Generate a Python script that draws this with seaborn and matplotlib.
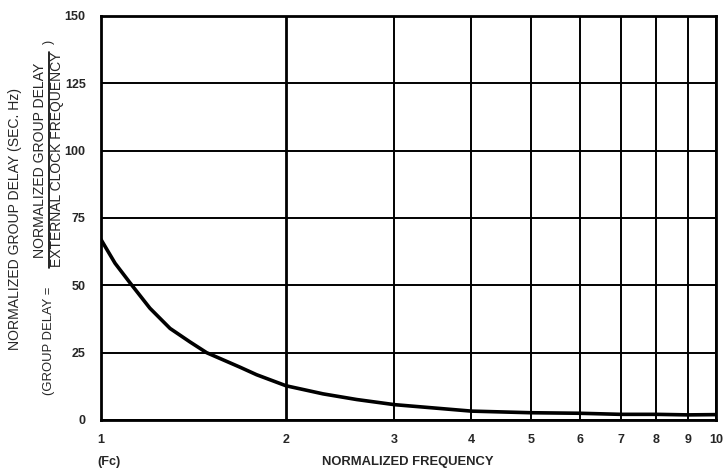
import matplotlib
matplotlib.use("Agg")
import matplotlib.pyplot as plt
import seaborn as sns
import pandas as pd

# Data
freq = [1.0, 1.054, 1.115, 1.201, 1.295, 1.395, 1.485, 1.683, 1.791, 2.0, 2.297, 2.605, 3.0, 4.0, 5.0, 6.0, 7.0, 8.0, 9.0, 10.0]
delay = [67.0, 58.2, 50.9, 41.5, 34.0, 29.0, 25.0, 19.6, 16.8, 12.7, 9.7, 7.6, 5.7, 3.3, 2.7, 2.5, 2.1, 2.1, 1.9, 2.0]
x_ticks = [1, 2, 3, 4, 5, 6, 7, 8, 9, 10]
y_ticks = [0, 25, 50, 75, 100, 125, 150]

sns.set_style("white")
plt.rcParams['font.family'] = ['Liberation Sans', 'DejaVu Sans']

df = pd.DataFrame({"freq": freq, "delay": delay})

W, H = 728, 472
fig = plt.figure(figsize=(W / 100, H / 100), dpi=100)
ax = fig.add_axes([101 / W, 1 - 420 / H, 615 / W, 404 / H])

ax.set_xscale("log")
ax.set_xlim(1, 10)
ax.set_ylim(0, 150)

for xv in x_ticks:
    ax.axvline(xv, color="black", lw=2.0 if xv == 2 else 1.4, zorder=1)
for yv in y_ticks:
    ax.axhline(yv, color="black", lw=1.4, zorder=1)

sns.lineplot(data=df, x="freq", y="delay", ax=ax, color="black", lw=2.6, zorder=3)

ax.set_xticks(x_ticks)
ax.set_xticklabels([str(v) for v in x_ticks])
ax.xaxis.set_minor_locator(matplotlib.ticker.NullLocator())
ax.set_yticks(y_ticks)
ax.set_yticklabels([str(v) for v in y_ticks])
ax.tick_params(axis="both", length=0, labelsize=9)
ax.tick_params(axis="x", pad=10)
ax.tick_params(axis="y", pad=11)
for lab in ax.get_xticklabels() + ax.get_yticklabels():
    lab.set_fontweight("bold")

for s in ax.spines.values():
    s.set_color("black")
    s.set_linewidth(2.0)

ax.set_xlabel("")
ax.set_ylabel("")

renderer = fig.canvas.get_renderer()


def fitted(x, y0, y1, s, weight="normal", rotation=90):
    """Place text centred in pixel coords, sized so its long extent spans y0..y1 (or x range)."""
    t = fig.text(x / W, 1 - (y0 + y1) / 2 / H, s, rotation=rotation, ha="center", va="center",
                 fontsize=10, fontweight=weight)
    bb = t.get_window_extent(renderer)
    cur = bb.height if rotation == 90 else bb.width
    t.set_fontsize(10 * (y1 - y0) / cur)
    return t


# Bottom labels
fitted(0, 97, 120, "(Fc)", weight="bold", rotation=0).set_position((108.5 / W, 1 - 462 / H))
fitted(0, 322, 494, "NORMALIZED FREQUENCY", weight="bold", rotation=0).set_position((408 / W, 1 - 462 / H))

# Left labels (rotated)
fitted(15, 87, 350, "NORMALIZED GROUP DELAY (SEC. Hz)")
fitted(49, 287, 395, "(GROUP DELAY =")
fitted(40, 62, 258, "NORMALIZED GROUP DELAY")
fitted(57, 52, 267, "EXTERNAL CLOCK FREQUENCY")
fig.add_artist(matplotlib.lines.Line2D([48.5 / W, 48.5 / W], [1 - 268 / H, 1 - 52 / H],
                                       transform=fig.transFigure, color="black", lw=1.2))
fig.text(48.5 / W, 1 - 42 / H, ")", rotation=90, ha="center", va="center", fontsize=9)

fig.savefig("out.png", dpi=100)
